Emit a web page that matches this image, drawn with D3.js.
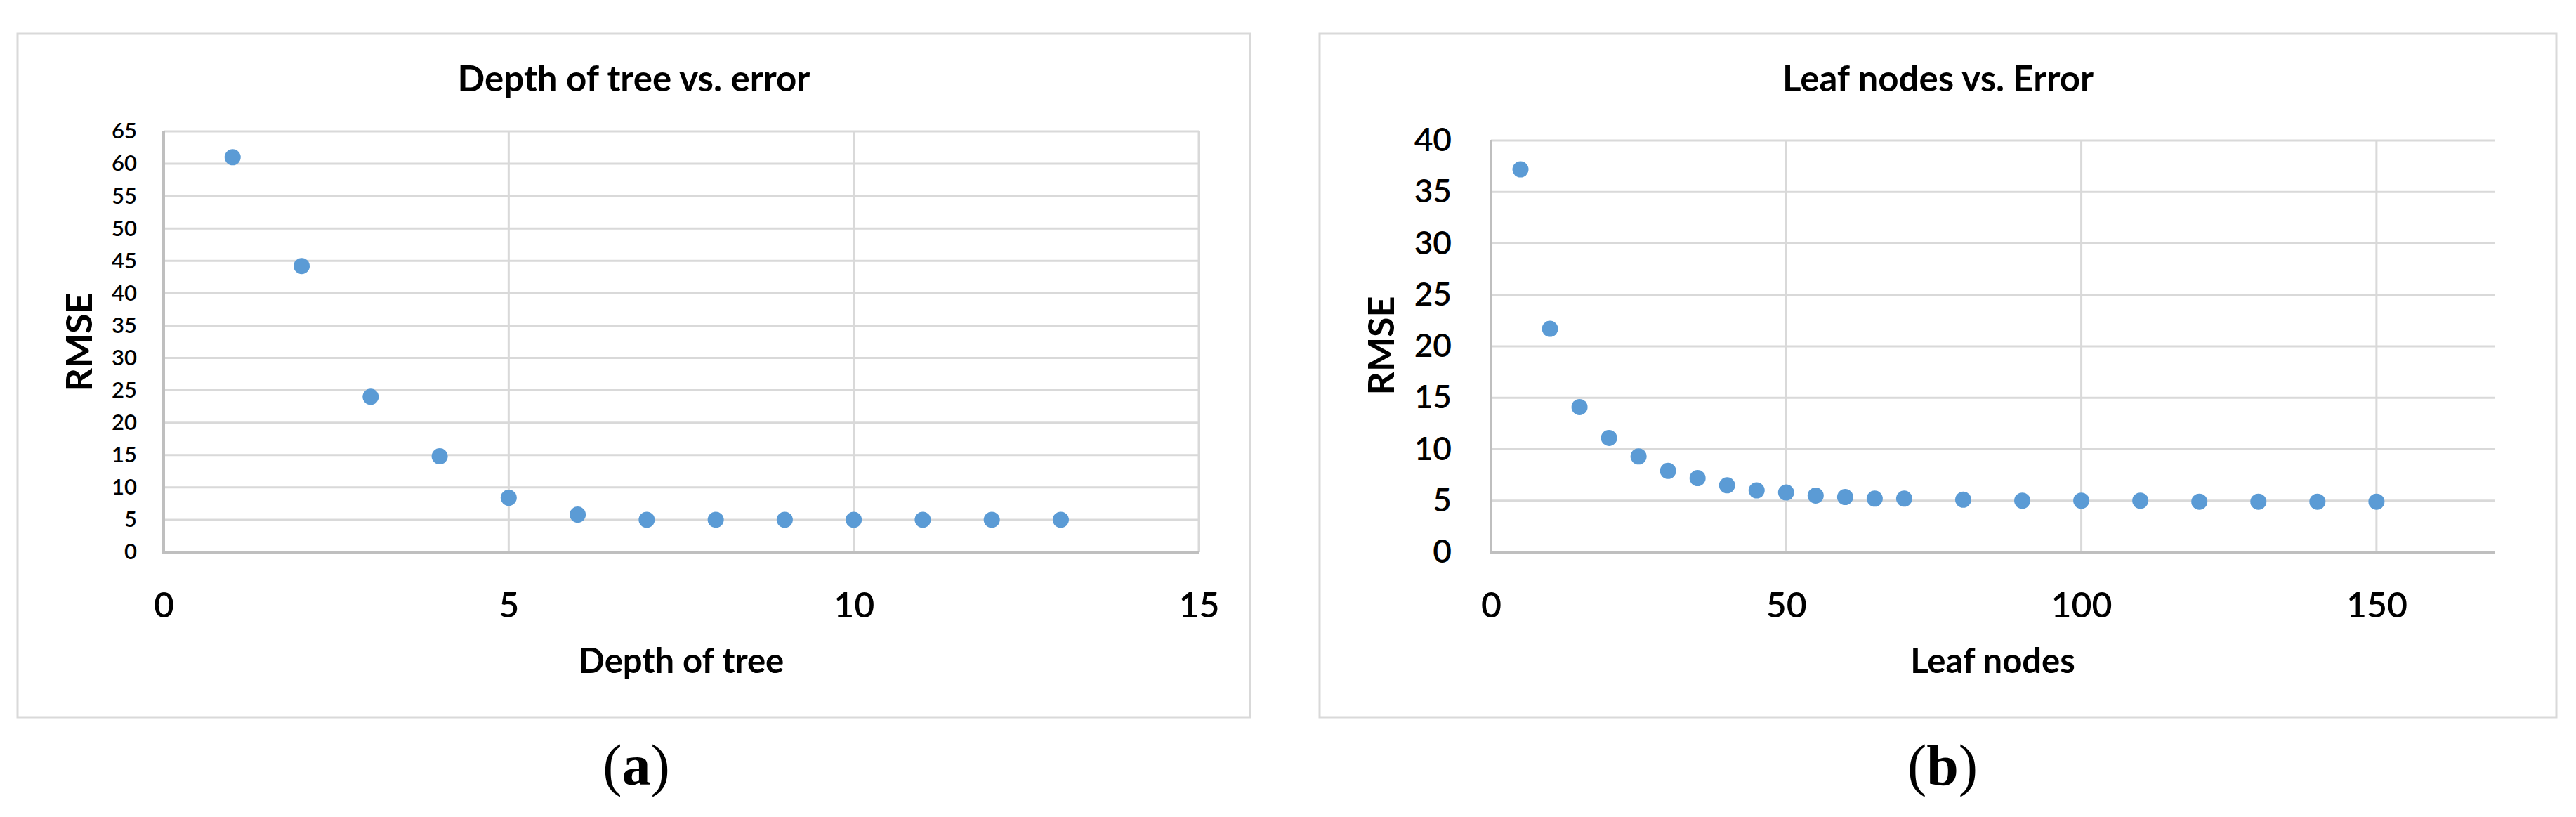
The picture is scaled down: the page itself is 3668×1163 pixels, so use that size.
<!DOCTYPE html>
<html>
<head>
<meta charset="utf-8">
<script src="https://cdn.jsdelivr.net/npm/d3@7"></script>
<style>
  body { margin: 0; background: #fff; }
  text { font-family: Lato, "Open Sans", sans-serif; fill: #000; }
</style>
</head>
<body>
<div id="canvas"></div>
<script>
// (a) depth of tree vs. RMSE
const depthX = [1, 2, 3, 4, 5, 6, 7, 8, 9, 10, 11, 12, 13];
const depthRmse = [61.0, 44.2, 24.0, 14.8, 8.4, 5.8, 5.0, 5.0, 5.0, 5.0, 5.0, 5.0, 5.0];
const depthXTicks = [0, 5, 10, 15];
const depthYTicks = [0, 5, 10, 15, 20, 25, 30, 35, 40, 45, 50, 55, 60, 65];

// (b) leaf nodes vs. RMSE
const leafX = [5, 10, 15, 20, 25, 30, 35, 40, 45, 50, 55, 60, 65, 70, 80, 90, 100, 110, 120, 130, 140, 150];
const leafRmse = [37.2, 21.7, 14.1, 11.1, 9.3, 7.9, 7.2, 6.5, 6.0, 5.8, 5.5, 5.35, 5.2, 5.2, 5.1, 5.0, 5.0, 5.0, 4.9, 4.9, 4.9, 4.9];
const leafXTicks = [0, 50, 100, 150];
const leafYTicks = [0, 5, 10, 15, 20, 25, 30, 35, 40];

const titles = ["Depth of tree vs. error", "Leaf nodes vs. Error"];
const xTitles = ["Depth of tree", "Leaf nodes"];
const captions = ["a", "b"];

const widthValue = 3668;
const heightValue = 1163;

const svg = d3.select("#canvas").append("svg")
  .attr("width", widthValue)
  .attr("height", heightValue);

svg.append("rect").attr("width", widthValue).attr("height", heightValue).attr("fill", "#fff");

const graph = function (opt) {
  const frame = opt.frame;

  svg.append("rect")
    .attr("x", frame.x).attr("y", frame.y)
    .attr("width", frame.w).attr("height", frame.h)
    .attr("fill", "#fff")
    .attr("stroke", "#d9d9d9")
    .attr("stroke-width", 3);

  var x = d3.scaleLinear().domain(opt.xDomain).range(opt.xRange);
  var y = d3.scaleLinear().domain(opt.yDomain).range(opt.yRange);

  const g = svg.append("g");

  // horizontal gridlines
  g.selectAll(".hgrid")
    .data(opt.yTicks.filter((d) => d > 0))
    .enter()
    .append("line")
    .attr("x1", opt.xRange[0]).attr("x2", opt.xRange[1])
    .attr("y1", (d) => y(d)).attr("y2", (d) => y(d))
    .attr("stroke", "#d9d9d9")
    .attr("stroke-width", 3);

  // vertical gridlines
  g.selectAll(".vgrid")
    .data(opt.xTicks.filter((d) => d > 0))
    .enter()
    .append("line")
    .attr("x1", (d) => x(d)).attr("x2", (d) => x(d))
    .attr("y1", opt.yRange[0]).attr("y2", opt.yRange[1])
    .attr("stroke", "#d9d9d9")
    .attr("stroke-width", 3);

  // axis lines
  g.append("line")
    .attr("x1", opt.xRange[0]).attr("x2", opt.xRange[1])
    .attr("y1", y(0)).attr("y2", y(0))
    .attr("stroke", "#bfbfbf").attr("stroke-width", 4);
  g.append("line")
    .attr("x1", x(0)).attr("x2", x(0))
    .attr("y1", opt.yRange[0] + 2).attr("y2", opt.yRange[1])
    .attr("stroke", "#bfbfbf").attr("stroke-width", 4);

  const yAxis = g.append("g")
    .attr("transform", `translate(${x(0)},0)`)
    .call(d3.axisLeft(y).tickValues(opt.yTicks).tickSize(0).tickPadding(opt.yPad));
  yAxis.select(".domain").remove();
  yAxis.selectAll("text")
    .attr("fill", "#000")
    .style("font-family", "Lato, sans-serif")
    .style("font-weight", "600")
    .style("font-size", opt.yFont + "px");

  const xAxis = g.append("g")
    .attr("transform", `translate(0,${y(0)})`)
    .call(d3.axisBottom(x).tickValues(opt.xTicks).tickSize(0).tickPadding(57));
  xAxis.select(".domain").remove();
  xAxis.selectAll("text")
    .attr("fill", "#000")
    .style("font-family", "Lato, sans-serif")
    .style("font-weight", "600")
    .style("font-size", "50px");

  g.selectAll("circle")
    .data(opt.xs)
    .enter()
    .append("circle")
    .attr("cx", (d) => x(d))
    .attr("cy", (d, i) => y(opt.ys[i]))
    .attr("r", 11.5)
    .attr("fill", "#5b9bd5");

  svg.append("text")
    .attr("x", frame.x + frame.w / 2)
    .attr("y", 130)
    .attr("text-anchor", "middle")
    .style("font-size", "51px")
    .style("font-weight", "bold")
    .text(opt.title);

  svg.append("text")
    .attr("x", (opt.xRange[0] + opt.xRange[1]) / 2)
    .attr("y", 958)
    .attr("text-anchor", "middle")
    .style("font-size", "49px")
    .style("font-weight", "bold")
    .text(opt.xTitle);

  svg.append("text")
    .attr("transform", `translate(${opt.yTitleX},${opt.yTitleY}) rotate(-90)`)
    .attr("text-anchor", "middle")
    .attr("dy", "0.36em")
    .style("font-size", "52px")
    .style("font-weight", "bold")
    .text("RMSE");

  const cap = svg.append("text")
    .attr("x", opt.capX)
    .attr("y", 1117)
    .attr("text-anchor", "middle")
    .style("font-family", "'Liberation Serif', serif")
    .style("font-size", "82px");
  cap.append("tspan").text("(");
  cap.append("tspan").style("font-weight", "bold").text(opt.caption);
  cap.append("tspan").text(")");
};

graph({
  frame: { x: 25, y: 48, w: 1755, h: 973 },
  xDomain: [0, 15], xRange: [233, 1707],
  yDomain: [0, 65], yRange: [786, 187],
  xTicks: depthXTicks, yTicks: depthYTicks,
  xs: depthX, ys: depthRmse,
  yPad: 38, yFont: 31,
  title: titles[0], xTitle: xTitles[0],
  yTitleX: 112, yTitleY: 487,
  capX: 906, caption: captions[0]
});

graph({
  frame: { x: 1879, y: 48, w: 1761, h: 973 },
  xDomain: [0, 170], xRange: [2123, 3552],
  yDomain: [0, 40], yRange: [786, 200],
  xTicks: leafXTicks, yTicks: leafYTicks,
  xs: leafX, ys: leafRmse,
  yPad: 56, yFont: 46,
  title: titles[1], xTitle: xTitles[1],
  yTitleX: 1966, yTitleY: 492,
  capX: 2766, caption: captions[1]
});
</script>
</body>
</html>
